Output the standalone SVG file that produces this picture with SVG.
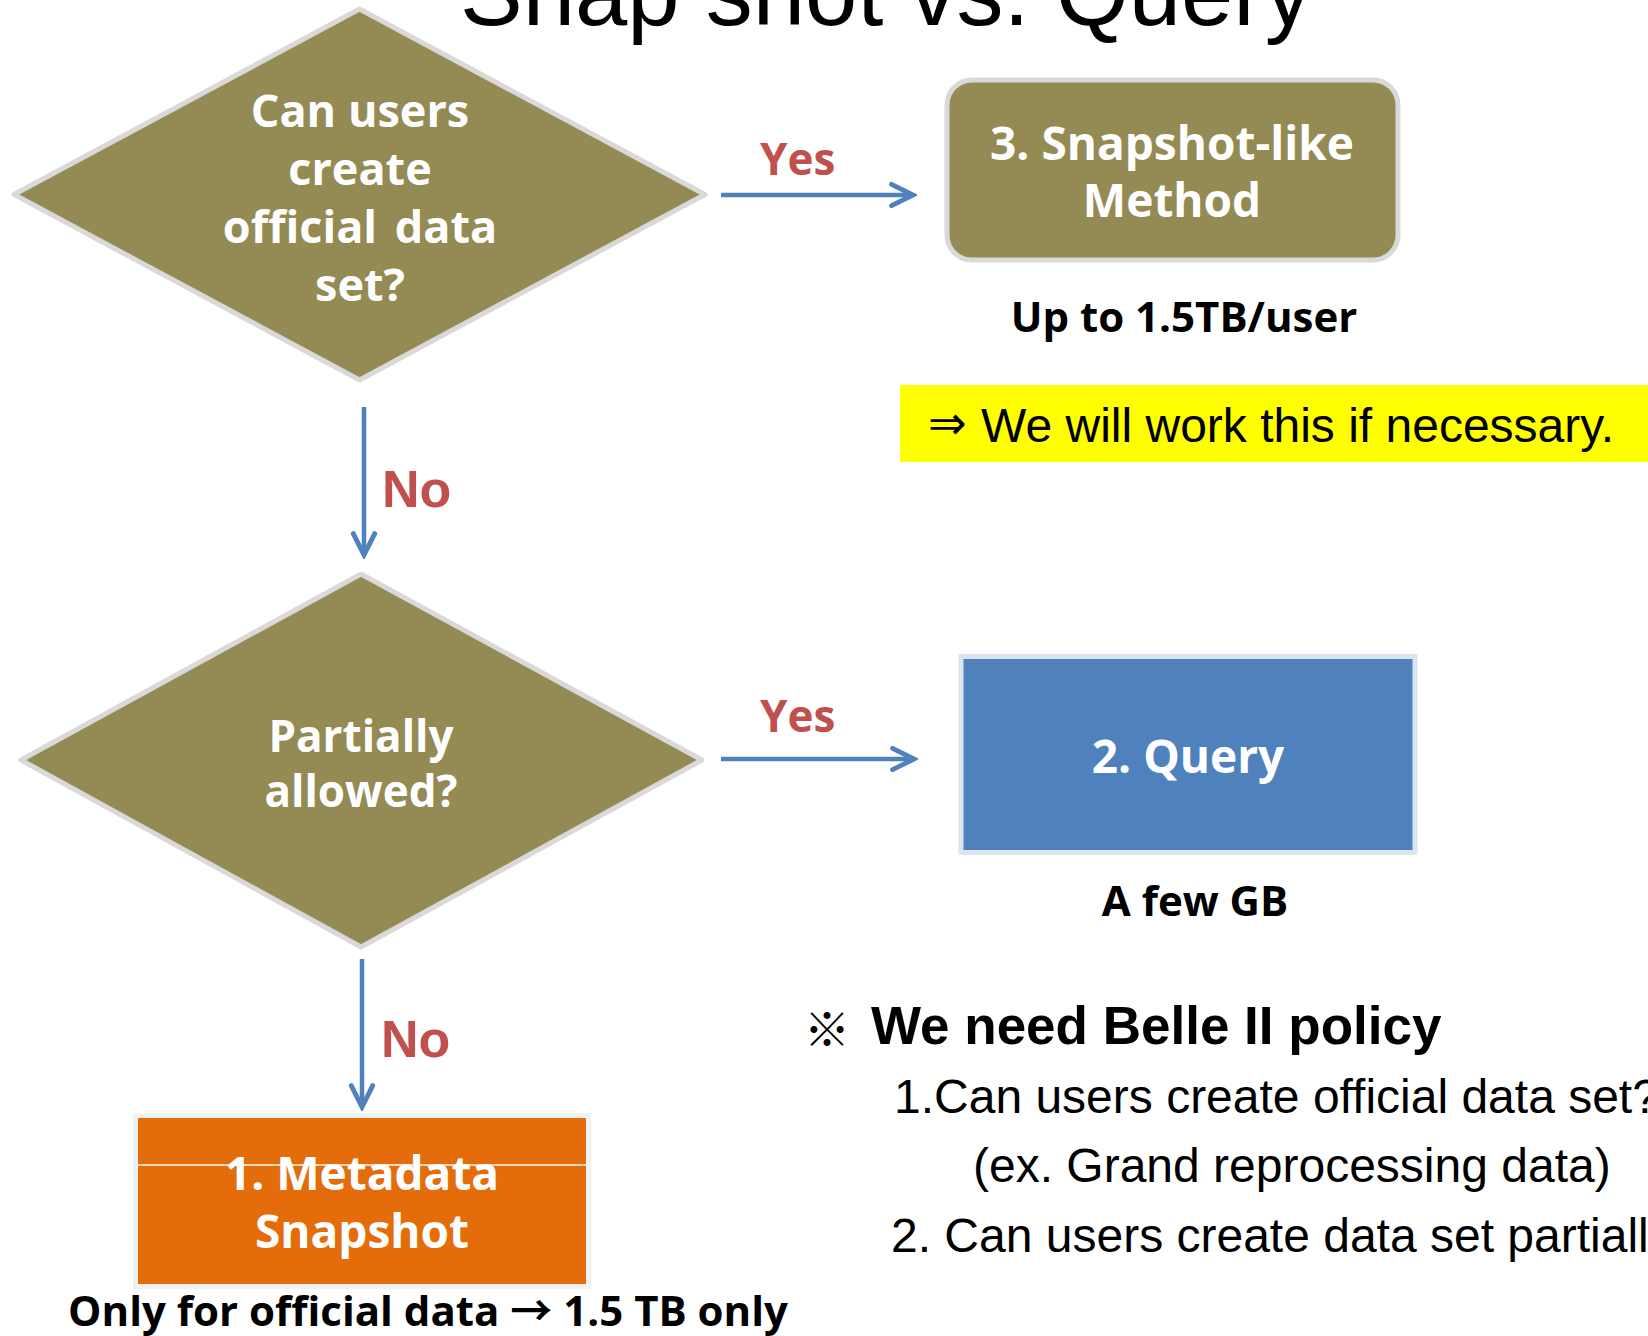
<svg xmlns="http://www.w3.org/2000/svg" width="1648" height="1336" viewBox="0 0 1648 1336">
<style>
.node-text{font-family:"Open Sans","Noto Sans",sans-serif;font-weight:bold;fill:#ffffff;text-anchor:middle}
.lbl{font-family:"Open Sans","Noto Sans",sans-serif;font-weight:bold;fill:#000000;text-anchor:middle}
.yes{font-family:"Open Sans","Noto Sans",sans-serif;font-weight:bold;fill:#c0504d;font-size:44px}
.no{font-family:"Liberation Sans",Arial,sans-serif;font-weight:bold;fill:#c0504d;font-size:52px}
.arial{font-family:"Liberation Sans",Arial,sans-serif;fill:#000000}
.conn{stroke:#4f81bd;stroke-width:4.5;fill:none;marker-end:url(#chev)}
</style>
<defs>
<marker id="chev" markerUnits="userSpaceOnUse" markerWidth="30" markerHeight="30" viewBox="-24 -14 28 28" refX="0" refY="0" orient="auto">
<path d="M -20 -10 L 0 0 L -20 10" fill="none" stroke="#4f81bd" stroke-width="4.5" stroke-linejoin="miter" stroke-linecap="round"/>
</marker>
</defs>
<rect width="1648" height="1336" fill="#ffffff"/>
<text id="title" class="arial" x="460" y="25" font-size="94">Snap shot vs. Query</text>

<g id="connectors">
<path class="conn" d="M 721 195 H 913"/>
<path class="conn" d="M 364 407 V 555"/>
<path class="conn" d="M 721 759 H 914"/>
<path class="conn" d="M 362 959 V 1107"/>
<text class="yes" x="760" y="175">Yes</text>
<text class="no" x="382" y="507">No</text>
<text class="yes" x="760" y="732">Yes</text>
<text class="no" x="381" y="1057">No</text>
</g>

<g id="q1">
<polygon points="14,194.5 359.5,9 705,194.5 359.5,380" fill="#948a54" stroke="#d9d9d9" stroke-width="5" stroke-linejoin="round"/>
<text class="node-text" font-size="45"><tspan x="360" y="127">Can users</tspan><tspan x="360" y="185">create</tspan><tspan x="360" y="243">official <tspan dx="6">data</tspan></tspan><tspan x="360" y="301">set?</tspan></text>
</g>

<g id="q2">
<polygon points="21,760 361,574 702,760 361,947" fill="#948a54" stroke="#d9d9d9" stroke-width="5" stroke-linejoin="round"/>
<text class="node-text" font-size="44"><tspan x="361" y="752">Partially</tspan><tspan x="361" y="807">allowed?</tspan></text>
</g>

<g id="m3">
<rect x="947" y="80" width="451" height="180" rx="25" ry="25" fill="#948a54" stroke="#d9d9d9" stroke-width="5"/>
<text class="node-text" font-size="46"><tspan x="1172" y="160">3. Snapshot-like</tspan><tspan x="1172" y="217">Method</tspan></text>
<text class="lbl" x="1184" y="332" font-size="42">Up to 1.5TB/user</text>
</g>

<g id="note">
<rect x="900" y="385" width="748" height="77" fill="#ffff00"/>
<text x="928" y="439" font-family="DejaVu Sans,sans-serif" font-size="46" fill="#000000">⇒</text>
<text class="arial" x="981" y="442" font-size="48">We will work this if necessary.</text>
</g>

<g id="m2">
<rect x="961" y="656.5" width="454" height="196" fill="#4f81bd" stroke="#dbe5f1" stroke-width="5"/>
<text class="node-text" x="1188" y="773" font-size="46">2. Query</text>
<text class="lbl" x="1195" y="916" font-size="42">A few GB</text>
</g>

<g id="m1">
<rect x="135.5" y="1115.5" width="453" height="171" fill="#e46c0a" stroke="#f2f2f2" stroke-width="5"/>
<line x1="138" y1="1165" x2="586" y2="1165" stroke="#ffffff" stroke-width="1.5"/>
<text class="node-text" font-size="46"><tspan x="362" y="1190">1. Metadata</tspan><tspan x="362" y="1248">Snapshot</tspan></text>
<text class="lbl" x="428" y="1326" font-size="42">Only for official data <tspan font-family="'Noto Sans CJK JP',sans-serif">→</tspan> 1.5 TB only</text>
</g>

<g id="policy">
<text x="804" y="1046" font-family="'Noto Sans CJK JP',sans-serif" font-size="46" fill="#000000">※</text>
<text class="arial" x="871" y="1044" font-size="53" font-weight="bold">We need Belle II policy</text>
<text class="arial" x="894" y="1113" font-size="48">1.Can users create official data set?</text>
<text class="arial" x="973" y="1182" font-size="48">(ex. Grand reprocessing data)</text>
<text class="arial" x="891" y="1252" font-size="48">2. Can users create data set partially</text>
</g>
</svg>
